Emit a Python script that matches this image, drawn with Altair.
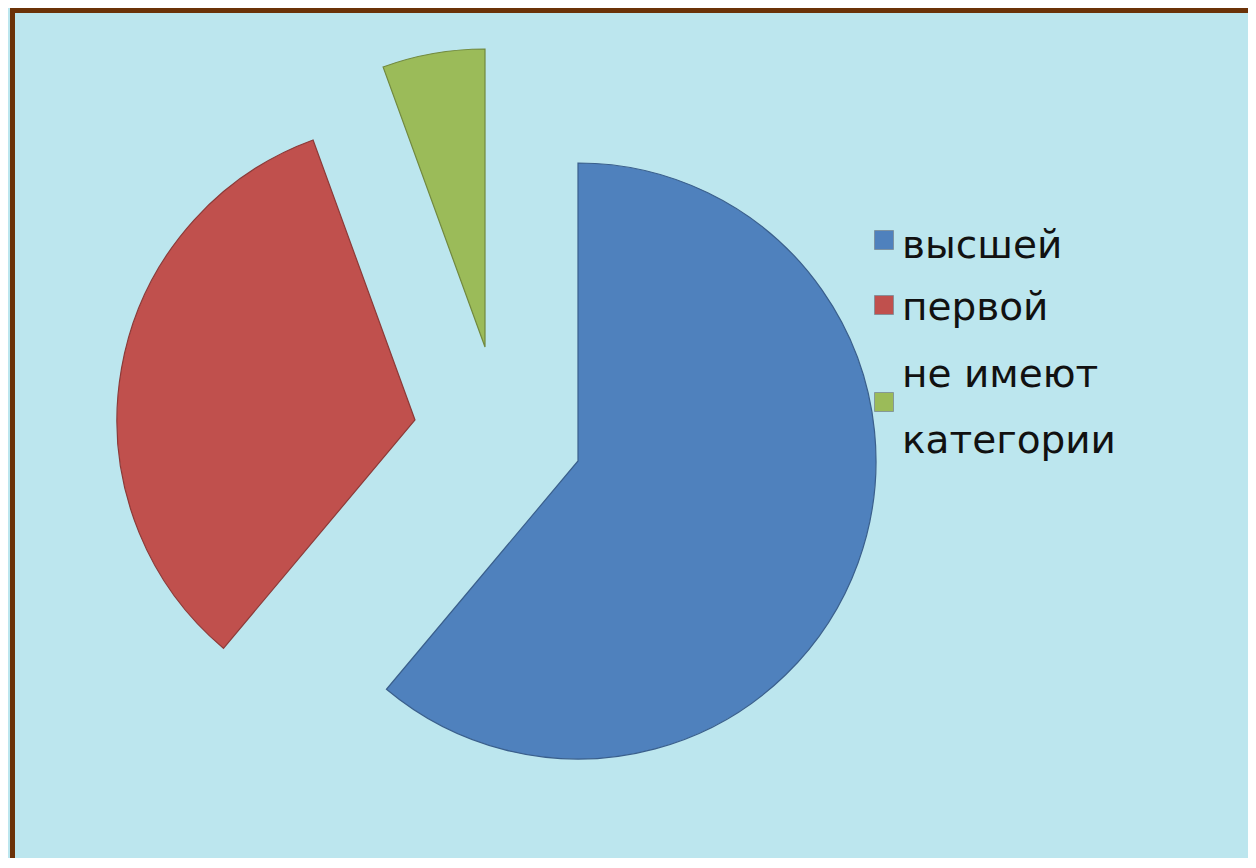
import altair as alt
import pandas as pd

categories = ["высшей", "первой", "не имеют категории"]
values = [11, 6, 1]
colors = ["#4f81bd", "#c0504d", "#9bbb59"]
outline = ["#3a5f8c", "#8c3a38", "#71893f"]

df = pd.DataFrame({"category": categories, "value": values})

W, H = 1240, 850

# layout (chart pixel coordinates) for each exploded slice and legend entry
slice_centers = [(570, 453), (407, 412), (477, 339)]
radius = 298
legend_sq_y = [232, 297, 394]
legend_txt_y = [250, 312, 379]

base = (
    alt.Chart(df)
    .transform_joinaggregate(total="sum(value)")
    .transform_window(cum="sum(value)")
    .transform_calculate(
        t0="(datum.cum - datum.value) / datum.total * 2 * PI",
        t1="datum.cum / datum.total * 2 * PI",
        label="replace(datum.category, 'имеют ', 'имеют|')",
    )
)

color = alt.Color(
    "category:N",
    scale=alt.Scale(domain=categories, range=colors),
    legend=None,
)

layers = []
for i, cat in enumerate(categories):
    sub = base.transform_filter(alt.datum.category == cat)
    cx, cy = slice_centers[i]
    layers.append(
        sub.mark_arc(radius=radius, stroke=outline[i], strokeWidth=1.2).encode(
            theta=alt.Theta("t0:Q", scale=None),
            theta2="t1:Q",
            color=color,
            x=alt.value(cx),
            y=alt.value(cy),
        )
    )
    layers.append(
        sub.mark_square(size=361, opacity=1, stroke="#7a8a95", strokeWidth=0.8).encode(
            color=color,
            x=alt.value(876),
            y=alt.value(legend_sq_y[i]),
        )
    )
    layers.append(
        sub.mark_text(
            align="left",
            baseline="alphabetic",
            font="DejaVu Sans",
            fontSize=39,
            color="#111111",
            lineBreak="|",
            lineHeight=66,
        ).encode(
            text="label:N",
            x=alt.value(894),
            y=alt.value(legend_txt_y[i]),
        )
    )

# brown frame (top and left edges visible)
frame_top = alt.Chart(df).mark_rule(color="#6b3208", strokeWidth=5).encode(
    x=alt.value(2), x2=alt.value(W), y=alt.value(2.5)
)
frame_left = alt.Chart(df).mark_rule(color="#6b3208", strokeWidth=5).encode(
    x=alt.value(4.5), y=alt.value(0), y2=alt.value(H)
)

chart = (
    alt.layer(*layers, frame_top, frame_left)
    .properties(width=W, height=H, background="#bce6ee", padding=0, autosize="none")
    .configure_view(stroke=None)
)

chart.save("out.html", embed_options={"renderer": "svg", "actions": False})
